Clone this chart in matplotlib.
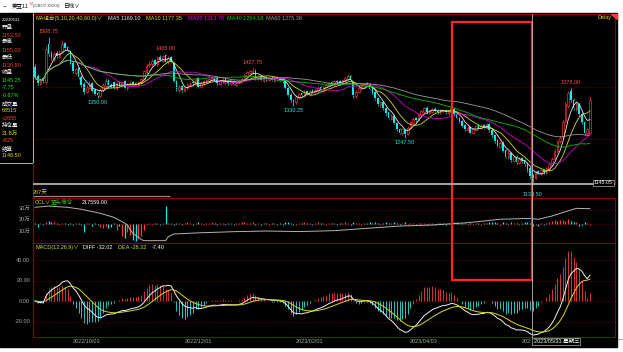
import numpy as np
import pandas as pd
import matplotlib
matplotlib.use("Agg")
import matplotlib.pyplot as plt
from matplotlib.patches import Rectangle, Polygon
from matplotlib.transforms import blended_transform_factory as blend

plt.rcParams['font.family'] = ['Liberation Sans', 'Noto Sans CJK SC', 'DejaVu Sans']

# ---------------- data ----------------
opens = [1432,1408,1388,1402,1392,1490,1468,1452,1468,1458,
         1472,1492,1482,1470,1442,1415,1428,1405,1388,1368,
         1378,1390,1372,1365,1356,1372,1382,1398,1386,1392,
         1376,1392,1383,1394,1376,1384,1392,1390,1384,1390,
         1400,1418,1436,1438,1450,1438,1458,1448,1462,1443,
         1456,1442,1395,1372,1382,1370,1376,1384,1392,1388,
         1402,1380,1388,1394,1396,1398,1403,1404,1388,1394,
         1400,1394,1388,1395,1386,1390,1394,1398,1408,1416,
         1418,1422,1400,1408,1396,1406,1398,1404,1396,1406,
         1402,1400,1396,1378,1360,1346,1340,1352,1364,1356,
         1370,1360,1372,1366,1370,1380,1370,1380,1384,1392,
         1386,1396,1394,1390,1396,1400,1408,1392,1356,1366,
         1376,1380,1390,1386,1376,1366,1350,1332,1340,1325,
         1314,1298,1306,1288,1272,1260,1268,1258,1274,1288,
         1300,1294,1308,1316,1326,1313,1316,1324,1320,1314,
         1321,1320,1312,1316,1324,1310,1300,1292,1282,1268,
         1276,1262,1268,1280,1274,1282,1274,1284,1268,1256,
         1242,1226,1236,1216,1198,1210,1188,1200,1184,1196,
         1190,1182,1170,1153.5,1146,1162,1156,1166,1158,1168,
         1178,1195,1214,1240,1250,1292,1330,1370,1346,1324,
         1336,1310,1290,1260,1262]
highs = [1440,1412,1404,1406,1485,1508.75,1472,1470,1472,1476,
         1498,1495,1486,1474,1446,1430,1432,1410,1392,1385,
         1394,1392,1376,1368,1376,1390,1402,1400,1390,1394,
         1394,1396,1396,1398,1389,1394,1395,1393,1396,1404,
         1424,1440,1446,1452,1453,1459,1461,1463,1465,1459,
         1459,1444,1398,1385,1385,1382,1389,1392,1395,1402,
         1405,1394,1398,1402,1404,1406,1406,1407,1398,1402,
         1402,1397,1396,1398,1393,1398,1404,1413,1421,1424,
         1427.75,1425,1411,1410,1408,1409,1405,1407,1408,1409,
         1405,1403,1399,1380,1363,1349,1358,1365,1367,1371,
         1373,1373,1375,1375,1381,1383,1383,1388,1393,1395,
         1398,1399,1397,1401,1405,1412,1411,1395,1371,1381,
         1385,1391,1393,1389,1379,1369,1353,1344,1343,1328,
         1316,1309,1309,1290,1275,1273,1271,1278,1293,1302,
         1303,1313,1321,1329,1330,1321,1326,1327,1323,1323,
         1324,1322,1321,1329,1327,1313,1303,1295,1285,1279,
         1279,1273,1281,1283,1284,1285,1288,1288,1271,1259,
         1245,1239,1239,1219,1214,1213,1202,1203,1198,1199,
         1193,1185,1174,1155,1163,1165,1168,1169,1173,1183,
         1198,1219,1244,1254,1294,1340,1370,1378,1350,1340,
         1339,1314,1293,1275,1355]
lows = [1400,1384,1385,1390,1388,1460,1450,1448,1455,1454,
        1468,1476,1470,1436,1415,1410,1400,1380,1362,1364,
        1374,1366,1358,1350,1353,1368,1378,1382,1376,1374,
        1373,1381,1380,1374,1372,1381,1384,1381,1380,1387,
        1397,1414,1432,1434,1436,1434,1446,1444,1441,1440,
        1441,1392,1370,1368,1368,1366,1373,1381,1385,1385,
        1376,1377,1385,1390,1393,1395,1392,1386,1385,1391,
        1388,1386,1385,1384,1383,1387,1391,1395,1405,1413,
        1414,1399,1397,1394,1393,1396,1395,1394,1393,1397,
        1394,1391,1374,1356,1340,1330.25,1336,1349,1354,1353,
        1358,1357,1364,1363,1367,1369,1367,1377,1381,1384,
        1383,1388,1386,1387,1393,1397,1394,1352,1352,1363,
        1372,1377,1381,1371,1361,1346,1331,1328,1321,1308,
        1296,1294,1284,1266,1258,1256,1247.5,1255,1270,1285,
        1290,1291,1305,1313,1311,1309,1313,1315,1311,1310,
        1314,1310,1308,1313,1306,1296,1286,1276,1266,1265,
        1258,1258,1265,1271,1270,1271,1271,1264,1251,1236,
        1224,1222,1211,1196,1195,1186,1185,1181,1180,1184,
        1176,1161,1146,1134.5,1142,1154,1152,1156,1155,1164,
        1175,1191,1210,1236,1246,1288,1326,1340,1320,1318,
        1305,1284,1256,1255,1258]
closes = [1405,1390,1400,1395,1478,1465,1455,1465,1460,1470,
          1490,1480,1475,1440,1420,1425,1405,1385,1368,1380,
          1388,1370,1362,1358,1372,1385,1395,1385,1380,1378,
          1390,1385,1392,1378,1385,1390,1388,1385,1392,1400,
          1420,1435,1440,1448,1440,1455,1450,1460,1445,1455,
          1445,1395,1375,1380,1372,1378,1385,1388,1390,1398,
          1380,1390,1395,1398,1400,1402,1395,1390,1395,1398,
          1392,1390,1393,1388,1390,1395,1400,1410,1418,1420,
          1422,1402,1408,1398,1405,1400,1402,1398,1405,1400,
          1398,1395,1378,1360,1345,1340,1355,1362,1358,1368,
          1362,1370,1368,1372,1378,1372,1380,1385,1390,1388,
          1395,1392,1390,1398,1402,1408,1398,1358,1368,1378,
          1382,1388,1385,1375,1365,1350,1335,1340,1325,1312,
          1300,1305,1288,1270,1262,1270,1258,1275,1290,1298,
          1295,1310,1318,1325,1315,1318,1322,1318,1315,1320,
          1318,1314,1318,1325,1310,1300,1290,1280,1270,1275,
          1262,1270,1278,1275,1280,1275,1285,1268,1255,1240,
          1228,1235,1215,1200,1210,1190,1198,1185,1195,1188,
          1180,1165,1150,1145.25,1160,1158,1165,1160,1170,1180,
          1195,1215,1240,1248,1290,1335,1365,1345,1325,1335,
          1310,1290,1262,1270,1345]
# open-interest change per bar (display units)
oi_change = [1,-3,1,-1,2,3,2,2,1,-1,
             1,1,-1,1,-1,1,1,-1,-8,1,
             1,-2,1,-1,-3,-4,-2,-4,-3,1,
             -6,-2,-12,-14,-8,-11,-16,-17,-15,-12,
             -6,-1,1,-1,1,1,-1,1,18,1,
             1,-1,1,1,-1,1,2,1,-1,1,
             2,1,-1,1,1,2,1,-1,1,1,
             -1,1,1,-1,1,1,2,2,1,1,
             2,-1,1,-1,1,1,-1,1,1,-1,
             1,-1,2,2,1,-1,-1,1,1,2,
             1,1,-1,1,2,1,1,-1,1,1,
             1,-1,1,1,2,1,-1,2,1,1,
             -1,1,1,2,1,2,1,-1,1,2,
             1,1,2,1,-1,1,2,-1,1,1,
             -1,1,1,1,-1,1,1,-1,1,1,
             1,-1,1,1,2,2,1,1,1,-1,
             1,-1,1,1,-1,1,1,2,2,2,
             1,-1,2,1,-1,2,1,1,-1,1,
             2,2,1,-2,-1,-2,1,-1,1,2,
             3,4,3,4,4,3,5,3,2,2,
             -2,-1,2,1,-1]
# open interest line (万手) at bar indices
oi_idx = [0,5,12,17,24,29,32,34,35,36,39,40,48,49,51,61,73,85,97,110,
          122,134,146,159,171,182,185,190,195,199,204]
oi_val = [30.6,31.7,30.6,28.9,25.4,21.9,18.1,15.2,10.9,8.0,2.8,1.6,1.6,5.0,7.4,8.5,9.4,10.0,9.5,10.3,
          12.3,14.3,15.2,17.2,20.2,21.0,20.2,23.0,26.8,29.7,29.4]
date_idx = [19, 60, 101, 143, 184]
date_labels = ['2022/10/03', '2022/12/01', '2023/02/01', '2023/04/03', '2023/06/01']
peak_idx = [5, 48, 80, 197]
trough_idx = [23, 95, 136, 183]
ma_windows = [5, 10, 20, 40, 60]
ccl_ticks = [30, 20, 10]
ccl_tick_labels = ['30万', '20万', '10万']
macd_ticks = [40, 20, 0, -20]
macd_tick_labels = ['40.00', '20.00', '0.00', '-20.00']
panel_texts = ['20230531', '开盘', '1153.50', '最高', '1155.00', '最低', '1130.50', '收盘',
               '1145.25', '-7.75', '-0.67%', '成交量', '68515', '+2655', '持仓量', '21.8万',
               '+525', '结算', '1146.50']

# ---------------- style ----------------
RED = '#ff3b3b'
CYAN = '#00f0f0'
DKRED = '#8a0000'
YEL = '#d8d820'
GRAY = '#a8a8a8'
FS = 4.0
ma_colors = ['#e8e8e8', YEL, '#d000d0', '#00c000', '#9a9a9a']
panel_colors = ['white', 'white', RED, 'white', RED, 'white', RED, 'white',
                '#20e020', '#20e020', '#20e020', 'white', YEL, RED, 'white', YEL,
                RED, 'white', YEL]

W, H = 623, 352
fig = plt.figure(figsize=(W / 100, H / 100), dpi=100)
fig.patch.set_facecolor('white')


def add_ax(x0, y0, x1, y1, z=1):
    return fig.add_axes([x0 / W, 1 - y1 / H, (x1 - x0) / W, (y1 - y0) / H], zorder=z)


bg = add_ax(0, 0, W, H, z=-5)
bg.set_xlim(0, W); bg.set_ylim(H, 0); bg.axis('off')
bg.add_patch(Rectangle((0, 12.5), 617, 334.5, color='black'))

o = np.array(opens, float); c = np.array(closes, float)
h = np.array(highs, float); l = np.array(lows, float)
n = len(c)
idx = np.arange(n)
XL = (-0.735, 213.2)


def style(a):
    a.set_facecolor('black')
    a.set_xlim(*XL)
    a.set_xticks([]); a.set_yticks([])
    for s in a.spines.values():
        s.set_color(DKRED); s.set_linewidth(0.8)


# ---------------- main price panel ----------------
axm = add_ax(33, 14, 615, 184, z=1)
style(axm)
axm.set_ylim(1129.3, 1568.1)
for lvl in (1379.7, 1245.4):
    axm.axhline(lvl, color=DKRED, lw=0.6, ls=(0, (1, 2)))

up = c >= o
col = np.where(up, RED, CYAN)
blo = np.minimum(o, c); bhi = np.maximum(o, c)
bh = np.maximum(bhi - blo, 1.2)
axm.vlines(idx, bhi, h, colors=col, lw=0.55)
axm.vlines(idx, l, blo, colors=col, lw=0.55)
axm.bar(idx[up], bh[up], bottom=blo[up], width=0.6, facecolor='black', edgecolor=RED, lw=0.45)
axm.bar(idx[~up], bh[~up], bottom=blo[~up], width=0.6, color=CYAN, lw=0)

cs = pd.Series(c)
for w, mc in zip(ma_windows, ma_colors):
    axm.plot(idx, cs.rolling(w, min_periods=1).mean(), color=mc, lw=0.6)

for i in peak_idx:
    axm.annotate(f'{h[i]:.2f}', (i, h[i]), xytext=(0, 3), textcoords='offset pixels',
                 ha='center', va='bottom', color='#ff4d4d', fontsize=FS)
for i in trough_idx:
    off = -10 if i == trough_idx[-1] else -2
    axm.annotate(f'{l[i]:.2f}', (i, l[i]), xytext=(0, off), textcoords='offset pixels',
                 ha='center', va='top', color='#30e0e0', fontsize=FS, annotation_clip=False)

# ---------------- CCL panel ----------------
axc = add_ax(33, 198, 615, 243, z=1)
style(axc)
axc.set_ylim(-0.43, 38.7)
axh = axc.twinx()
axh.set_zorder(2)
axh.patch.set_visible(False)
axh.set_xlim(*XL); axh.set_ylim(-19, 26)
axh.set_yticks([]); axh.set_xticks([])
for s in axh.spines.values():
    s.set_visible(False)
axh.axhline(0, color=DKRED, lw=0.6, ls=(0, (1, 2)))
axh.axhline(14, color=DKRED, lw=0.6, ls=(0, (1, 2)))
oc = np.array(oi_change, float)
axh.vlines(idx, 0, oc, colors=col, lw=0.9)
axh.plot(oi_idx, oi_val, color='#b4b4b4', lw=0.7, transform=axc.transData)
for v, t in zip(ccl_ticks, ccl_tick_labels):
    axc.text(-0.005, v, t, transform=blend(axc.transAxes, axc.transData), ha='right',
             va='center', color=GRAY, fontsize=FS)

# ---------------- MACD panel ----------------
axd = add_ax(33, 243, 615, 337, z=1)
style(axd)
axd.set_ylim(-35.1, 56.6)
for v in macd_ticks:
    axd.axhline(v, color=DKRED, lw=0.6, ls=(0, (1, 2)))
ema12 = cs.ewm(span=12, adjust=False).mean()
ema26 = cs.ewm(span=26, adjust=False).mean()
diff = ema12 - ema26
dea = diff.ewm(span=9, adjust=False).mean()
macd = 2 * (diff - dea)
axd.vlines(idx, 0, macd, colors=np.where(macd >= 0, '#d03838', '#20c8c8'), lw=0.7)
axd.plot(idx, diff, color='#f0f0f0', lw=0.7)
axd.plot(idx, dea, color=YEL, lw=0.7)
for v, t in zip(macd_ticks, macd_tick_labels):
    axd.text(-0.005, v, t, transform=blend(axd.transAxes, axd.transData), ha='right',
             va='center', color=GRAY, fontsize=FS)

# ---------------- overlay (pixel coordinates) ----------------
ov = add_ax(0, 0, W, H, z=10)
ov.set_xlim(0, W); ov.set_ylim(H, 0); ov.axis('off')

for i, t in zip(date_idx, date_labels):
    dt = axd.text(i, -0.045, t, transform=blend(axd.transData, axd.transAxes), ha='center',
                  va='center', color=GRAY, fontsize=FS, clip_on=True)
    dt.set_clip_path(Rectangle((0, 0), 531, H, transform=ov.transData))

# top strip
ov.text(2, 6.5, '⇔', color='#303030', fontsize=4.2, va='center', ha='left')
ov.text(12, 6.5, '美豆11', color='black', fontsize=4.0, va='center', ha='left')
ov.text(29.5, 4.3, 'M', color=RED, fontsize=2.6, va='center', ha='left')
ov.text(33, 6.5, '(CBOT ZSX3)', color='#303030', fontsize=3.1, va='center', ha='left')
ov.text(63, 6.5, '日线∨', color='black', fontsize=4.0, va='center', ha='left')

# left info panel
for k, (t, tc) in enumerate(zip(panel_texts, panel_colors)):
    ov.text(1.5, 20 + 7.55 * k, t, color=tc, fontsize=3.1 if k == 0 else FS,
            va='center', ha='left')
ov.plot([32.5, 32.5], [13, 163], color='#c8c8c8', lw=0.6)
ov.plot([0, 32.5], [163, 163], color='#c8c8c8', lw=0.6)
ov.plot([32.5, 32.5], [163, 337], color=DKRED, lw=0.8)

# MA legend line
ma_leg = [(35, 'MA组合(5,10,20,40,60,0)∨', YEL), (108, 'MA5 1169.10', '#e8e8e8'),
          (146, 'MA10 1177.35', YEL), (188, 'MA20 1213.78', '#e000e0'),
          (227, 'MA40 1254.18', '#00d000'), (266, 'MA60 1275.38', '#a0a0a0')]
for x, t, tc in ma_leg:
    ov.text(x, 18.5, t, color=tc, fontsize=FS, va='center', ha='left')
ov.text(612, 18, 'Delay', color=YEL, fontsize=FS, va='center', ha='right')
ov.add_patch(Polygon([(611, 13.5), (616.5, 13.5), (616.5, 19)], closed=True, color=RED))

# separators
ov.plot([33, 615], [183.5, 183.5], color='#a0a0a0', lw=1.5, solid_capstyle='butt')
ov.text(33, 192.5, '207天', color=YEL, fontsize=FS, va='center', ha='left')
ov.plot([33, 170], [196, 196], color='#8a8a8a', lw=0.9, solid_capstyle='butt')
ov.text(613, 183, '1145.05', color='white', fontsize=FS - 0.2, va='center', ha='right',
        bbox=dict(boxstyle='square,pad=0.15', fc='black', ec='#b0b0b0', lw=0.5))

# CCL legend
ov.text(35, 202.5, 'CCL∨', color=YEL, fontsize=FS, va='center', ha='left')
ov.text(51, 202.5, '空头增仓', color='#20d020', fontsize=FS, va='center', ha='left')
ov.text(82, 202.5, '217559.00', color='white', fontsize=FS, va='center', ha='left')

# MACD legend
ov.text(35, 247.5, 'MACD(12,26,9)∨', color=YEL, fontsize=FS, va='center', ha='left')
ov.text(83, 247.5, 'DIFF -32.02', color='white', fontsize=FS, va='center', ha='left')
ov.text(118, 247.5, 'DEA -28.32', color=YEL, fontsize=FS, va='center', ha='left')
ov.text(152, 247.5, '-7.40', color='white', fontsize=FS, va='center', ha='left')

# crosshair and highlight
ov.plot([532, 532], [14, 337], color='#b8b8b8', lw=0.6)
ov.add_patch(Rectangle((452, 22), 79.5, 258, fill=False, edgecolor='#ff2424', lw=1.6))
ov.text(533.5, 341.5, '2023/05/31 星期三', color='white', fontsize=FS, va='center', ha='left',
        bbox=dict(boxstyle='square,pad=0.2', fc='black', ec='#b0b0b0', lw=0.5))
ov.text(620, 340, '←', color='#808080', fontsize=6, va='center', ha='center')

fig.savefig('out.png', dpi=100, facecolor='white')
